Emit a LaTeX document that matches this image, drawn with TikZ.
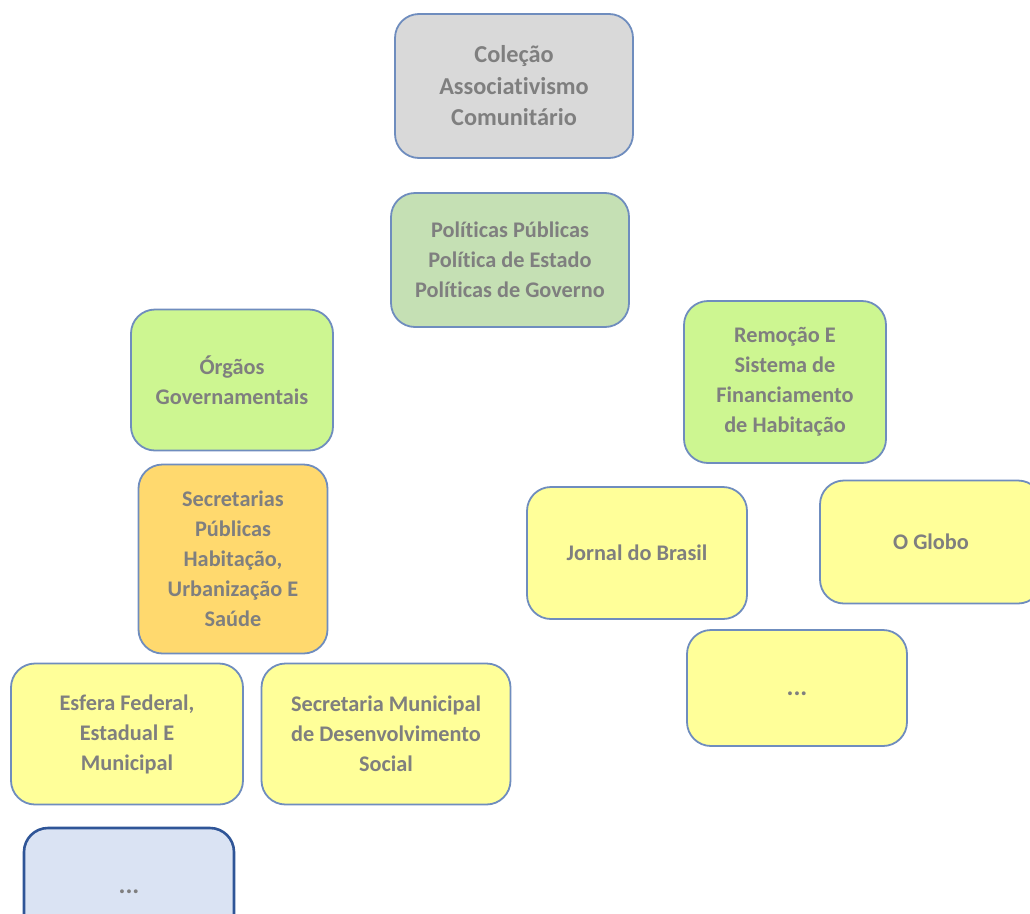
\documentclass[tikz,border=0pt]{standalone}
\usepackage{fontspec}
\setmainfont[RawFeature={-liga;-clig;-calt}]{Carlito}
\definecolor{edge}{HTML}{6F8DBE}
\definecolor{ink}{HTML}{7F7F7F}
\definecolor{greybox}{HTML}{D9D9D9}
\definecolor{sage}{HTML}{C5E0B4}
\definecolor{lime}{HTML}{CDF691}
\definecolor{amber}{HTML}{FFD96E}
\definecolor{lemon}{HTML}{FFFF99}
\definecolor{mist}{HTML}{DAE3F3}
\definecolor{navy}{HTML}{2F5597}
\newcommand{\moredots}{\raisebox{-7pt}[0pt][0pt]{\fontsize{26}{30}\selectfont...}}
\tikzset{
  card/.style={draw=edge, line width=1.8pt, rounded corners=24pt, align=center,
    inner sep=0pt, text=ink, font=\bfseries\fontsize{22.3}{30}\selectfont},
}
\begin{document}
\begin{tikzpicture}[x=1pt, y=-1pt]
            \clip (0, 0) rectangle (1030, 913);
            \fill[white] (0, 0) rectangle (1030, 913);
            \node[card, fill=greybox, minimum width=238pt, minimum height=144pt,
                  font=\bfseries\fontsize{24.3}{31.5}\selectfont] (colecao) at (514, 86)
                {Coleção\\Associativismo\\Comunitário};
            \node[card, fill=sage, minimum width=238pt, minimum height=134pt] (politicas) at (510, 260)
                {Políticas Públicas\\Política de Estado\\Políticas de Governo};
            \node[card, fill=lime, minimum width=202pt, minimum height=141pt] (orgaos) at (232, 380)
                {Órgãos\\Governamentais};
            \node[card, fill=lime, minimum width=202pt, minimum height=162pt] (remocao) at (785, 382)
                {Remoção E\\Sistema de\\Financiamento\\de Habitação};
            \node[card, fill=amber, minimum width=189pt, minimum height=189pt] (secretarias) at (233, 559)
                {Secretarias\\Públicas\\Habitação,\\Urbanização E\\Saúde};
            \node[card, fill=lemon, minimum width=232pt, minimum height=141pt] (esfera) at (127, 734)
                {Esfera Federal,\\Estadual E\\Municipal};
            \node[card, fill=lemon, minimum width=249pt, minimum height=141pt] (municipal) at (386, 734)
                {Secretaria Municipal\\de Desenvolvimento\\Social};
            \node[card, draw=navy, line width=2.6pt, fill=mist, minimum width=210pt, minimum height=116pt] (outros) at (129, 886)
                {\moredots};
            \node[card, fill=lemon, minimum width=220pt, minimum height=132pt] (jornal) at (637, 553)
                {Jornal do Brasil};
            \node[card, fill=lemon, minimum width=222pt, minimum height=123pt] (globo) at (931, 542)
                {O Globo};
            \node[card, fill=lemon, minimum width=220pt, minimum height=116pt] (imprensa) at (797, 688)
                {\moredots};
        \end{tikzpicture}
\end{document}
